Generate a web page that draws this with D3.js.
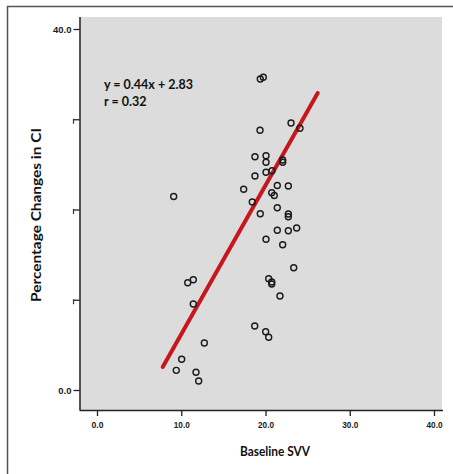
<!DOCTYPE html>
<html><head><meta charset="utf-8">
<script src="https://cdn.jsdelivr.net/npm/d3@7"></script>
<style>body{margin:0;background:#fff;}svg{display:block;}</style>
</head><body>
<svg id="c" width="453" height="474"></svg>
<script>
const xTicks = [0, 10, 20, 30, 40];
const yTicks = [0, 10, 20, 30, 40];
const yTickLabels = ["0.0", "", "", "", "40.0"];
const xTickLabels = ["0.0", "10.0", "20.0", "30.0", "40.0"];
const svvX = [19.38,19.74,23.03,24.09,19.35,18.75,20.06,20.06,22.04,22.04,18.75,20.06,20.77,17.41,21.4,22.71,20.74,21.04,9.1,18.43,19.38,21.4,22.71,22.71,21.4,22.71,23.7,20.06,22.04,23.35,10.77,11.43,20.38,20.74,20.74,21.72,11.43,18.72,20.02,20.38,12.74,10.05,9.41,11.75,12.07];
const ciY = [34.46,34.65,29.58,29.0,28.78,25.85,25.96,25.23,25.48,25.23,23.71,24.12,24.3,22.24,22.66,22.6,21.86,21.55,21.44,20.83,19.53,20.2,19.5,19.2,17.7,17.65,17.95,16.7,16.1,13.55,11.89,12.22,12.33,11.97,11.75,10.42,9.53,7.09,6.46,5.84,5.21,3.4,2.18,1.96,1.0];
const fitX = [7.8, 26.2];
const fitY = [2.55, 32.9];
const equationLines = ["y = 0.44x + 2.83", "r = 0.32"];
const xTitle = "Baseline SVV";
const yTitle = "Percentage Changes in CI";

const svg = d3.select("#c");
svg.append("path").attr("d","M7.5,474 V6.5 H453").attr("fill","none").attr("stroke","#555").attr("stroke-width",1.5);

const x = d3.scaleLinear().domain([0,40]).range([97,434]);
const y = d3.scaleLinear().domain([0,40]).range([390,29]);
const pL = 79.5, pR = 442, pT = 17, pB = 410;

svg.append("rect").attr("x",pL).attr("y",pT).attr("width",pR-pL).attr("height",pB-pT).attr("fill","#dcdcdc");

const tickFont = "'Liberation Sans Narrow','Liberation Sans',sans-serif";
const xAxis = d3.axisBottom(x).tickValues(xTicks).tickSize(6).tickFormat((d,i)=>xTickLabels[i]);
const gx = svg.append("g").attr("transform",`translate(0,${pB})`).call(xAxis);
gx.select(".domain").attr("d",`M${pL},0.5H${pR+1}`).attr("stroke","#222").attr("stroke-width",1.5);
gx.selectAll(".tick line").attr("stroke","#222").attr("stroke-width",1.3);
gx.selectAll(".tick text").attr("font-family",tickFont).attr("font-size",9.5).attr("font-weight","bold").attr("fill","#1a1a1a").attr("dy","0.9em")
  .attr("textLength",d=>d===0?12:16).attr("lengthAdjust","spacingAndGlyphs");

const yAxis = d3.axisLeft(y).tickValues(yTicks).tickSize(6).tickFormat((d,i)=>yTickLabels[i]);
const gy = svg.append("g").attr("transform",`translate(${pL},0)`).call(yAxis);
gy.select(".domain").attr("d",`M0.5,${pT}V${pB}`).attr("stroke","#222").attr("stroke-width",1.5);
gy.selectAll(".tick line").attr("stroke","#222").attr("stroke-width",1.3);
gy.selectAll(".tick text").attr("font-family",tickFont).attr("font-size",9.5).attr("font-weight","bold").attr("fill","#1a1a1a").attr("x",-8);
gy.selectAll(".tick").filter((d,i)=>yTickLabels[i]==="").append("line")
  .attr("x1",-6).attr("x2",-6).attr("y1",-1).attr("y2",4).attr("stroke","#333").attr("stroke-width",1.2);

svg.append("line").attr("x1",x(fitX[0])).attr("y1",y(fitY[0])).attr("x2",x(fitX[1])).attr("y2",y(fitY[1]))
  .attr("stroke","#c8161d").attr("stroke-width",4).attr("stroke-linecap","round");

svg.append("g").selectAll("circle").data(svvX.map((v,i)=>[v,ciY[i]])).join("circle")
  .attr("cx",d=>x(d[0])).attr("cy",d=>y(d[1])).attr("r",3)
  .attr("fill","none").attr("stroke","#1a1a1a").attr("stroke-width",1.4);

svg.append("g").selectAll("text").data(equationLines).join("text")
  .attr("x",104).attr("y",(d,i)=>89+i*17).text(d=>d)
  .attr("font-family","Lato, 'Open Sans', sans-serif").attr("font-size",12.5).attr("font-weight","bold").attr("fill","#111");

svg.append("text").attr("x",275).attr("y",456).attr("text-anchor","middle").text(xTitle)
  .attr("font-family","Lato, 'Open Sans', sans-serif").attr("font-size",13).attr("font-weight","bold").attr("fill","#111")
  .attr("textLength",70).attr("lengthAdjust","spacingAndGlyphs");
svg.append("text").attr("transform","translate(41,215) rotate(-90)").attr("text-anchor","middle").text(yTitle)
  .attr("font-family","Lato, 'Open Sans', sans-serif").attr("font-size",13).attr("font-weight","bold").attr("fill","#111")
  .attr("textLength",174).attr("lengthAdjust","spacingAndGlyphs");
</script>
</body></html>
